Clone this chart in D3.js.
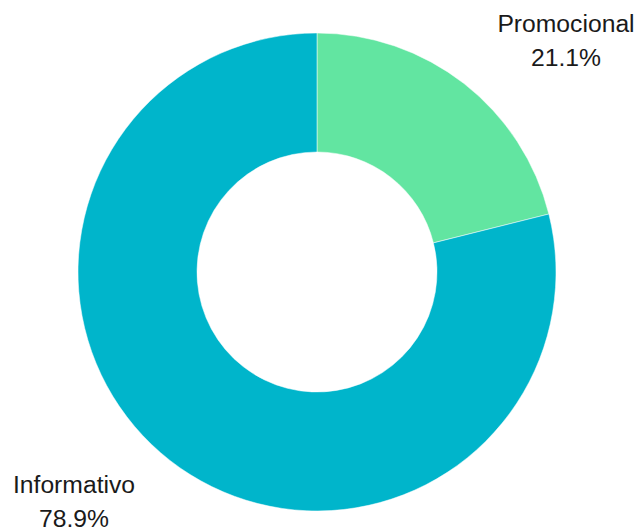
<!DOCTYPE html>
<html>
<head>
<meta charset="utf-8">
<script src="https://cdn.jsdelivr.net/npm/d3@7"></script>
<style>
  html, body { margin: 0; padding: 0; background: #ffffff; }
  svg { display: block; }
  text { font-family: "Liberation Sans", Arial, sans-serif; fill: #1a1a1a; }
</style>
</head>
<body>
<svg id="chart" width="640" height="531"></svg>
<script>
// Share of content by type
const categories = ["Promocional", "Informativo"];
const values = [21.1, 78.9];
const colors = ["#62e5a1", "#00b5cb"];

const width = 640, height = 531;
const cx = 317, cy = 272;
const outerR = 239, innerR = 120;

const svg = d3.select("#chart");
const g = svg.append("g").attr("transform", `translate(${cx},${cy})`);

const data = categories.map((c, i) => ({ name: c, value: values[i], color: colors[i] }));

const pie = d3.pie().value(d => d.value).sort(null);
const arc = d3.arc().innerRadius(innerR).outerRadius(outerR);

g.selectAll("path")
  .data(pie(data))
  .join("path")
  .attr("d", arc)
  .attr("fill", d => d.data.color)
  .attr("stroke", "#ffffff")
  .attr("stroke-width", 0.5);

// Labels placed outside the ring
const labelPos = [
  { x: 566, y: 32 },
  { x: 74, y: 493 }
];
const fmt = v => v.toFixed(1) + "%";

const labels = svg.selectAll("g.label")
  .data(data)
  .join("g")
  .attr("class", "label")
  .attr("transform", (d, i) => `translate(${labelPos[i].x},${labelPos[i].y})`);

labels.append("text")
  .attr("text-anchor", "middle")
  .attr("font-size", 24.7)
  .text(d => d.name);

labels.append("text")
  .attr("text-anchor", "middle")
  .attr("font-size", 24.7)
  .attr("y", 34)
  .text(d => fmt(d.value));
</script>
</body>
</html>
